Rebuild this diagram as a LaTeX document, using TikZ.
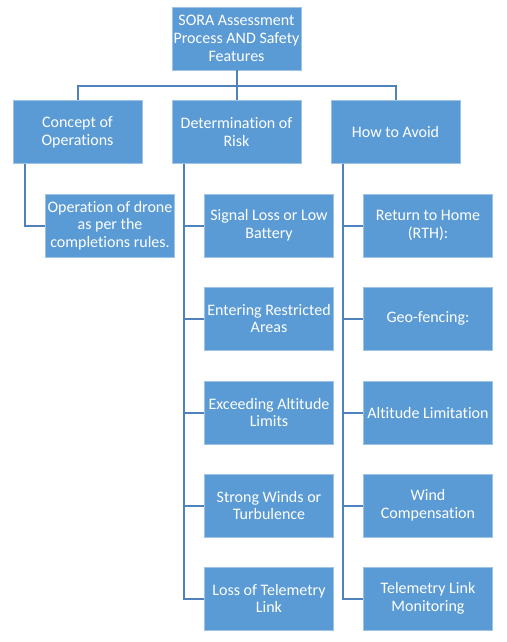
\documentclass[tikz,border=0pt]{standalone}
\usepackage{fontspec}
\setmainfont{Carlito}[Ligatures=CommonOff]
\usetikzlibrary{calc}
\definecolor{boxfill}{RGB}{91,155,213}
\definecolor{boxline}{RGB}{157,195,230}
\definecolor{linkcol}{RGB}{79,129,189}

\begin{document}
\begin{tikzpicture}[x=1pt, y=-1pt,
        box/.style={draw=boxline, fill=boxfill, text=white, line width=0.8pt,
            minimum width=129pt, minimum height=63pt,
            inner sep=0pt, align=center, font=\fontsize{16}{17.7}\selectfont},
        link/.style={draw=linkcol, line width=2pt}]
        % Parameters
        \def\colL{77.5}
        \def\colM{236.5}
        \def\colR{395.5}
        \def\sub{32.5} % child offset

        \useasboundingbox (0,0) rectangle (506,642);

        % Root and main branches
        \node[box] (root) at (\colM,38.5) {SORA Assessment\\Process AND Safety\\Features};
        \node[box] (concept) at (\colL,132) {Concept of\\Operations};
        \node[box] (risk) at (\colM,132) {Determination of\\Risk};
        \node[box] (avoid) at (\colR,132) {How to Avoid};

        % Children
        \node[box] (oper) at (\colL+\sub,225.5) {Operation of drone\\as per the\\completions rules.};

        \node[box] (r1) at (\colM+\sub,225.5) {Signal Loss or Low\\Battery};
        \node[box] (r2) at (\colM+\sub,318.5) {Entering Restricted\\Areas};
        \node[box] (r3) at (\colM+\sub,412.5) {Exceeding Altitude\\Limits};
        \node[box] (r4) at (\colM+\sub,505.5) {Strong Winds or\\Turbulence};
        \node[box] (r5) at (\colM+\sub,598.5) {Loss of Telemetry\\Link};

        \node[box] (a1) at (\colR+\sub,225.5) {Return to Home\\(RTH):};
        \node[box] (a2) at (\colR+\sub,318.5) {Geo-fencing:};
        \node[box] (a3) at (\colR+\sub,412.5) {Altitude Limitation};
        \node[box] (a4) at (\colR+\sub,505.5) {Wind\\Compensation};
        \node[box] (a5) at (\colR+\sub,598.5) {Telemetry Link\\Monitoring};

        % Top connectors
        \coordinate (bar) at (0,86);
        \draw[link] (root.south) -- (risk.north);
        \draw[link] (concept.north) |- (root.south |- bar) -| (avoid.north);

        % Child connectors
        \draw[link] ([xshift=-52.5pt]concept.south) |- (oper.west);
        \foreach \i in {1,...,5} {
            \draw[link] ([xshift=-52.5pt]risk.south) |- (r\i.west);
            \draw[link] ([xshift=-52.5pt]avoid.south) |- (a\i.west);
        }
    \end{tikzpicture}
\end{document}
